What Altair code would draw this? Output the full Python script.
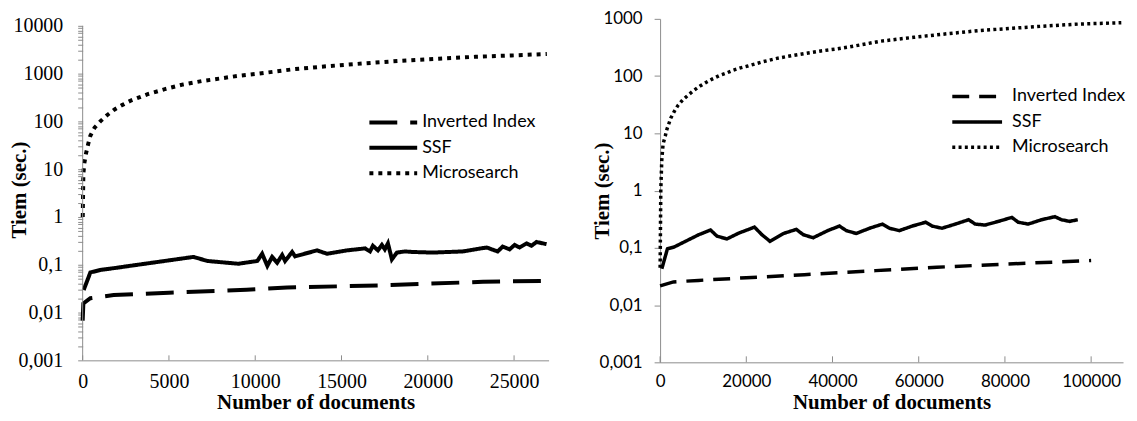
import altair as alt
import pandas as pd

names = ["Inverted Index", "SSF", "Microsearch"]

# ---- left panel ----
l_inv_n = [0, 40, 445, 1800, 5000, 9500, 11850, 17200, 23200, 26800]
l_inv_t = [0.0068, 0.0155, 0.020, 0.0232, 0.026, 0.030, 0.0334, 0.037, 0.044, 0.046]

l_ssf_n = [60, 445, 1040, 2020, 2750, 6420, 7230, 9020, 10120, 10400, 10700, 10980, 11270, 11560, 11730,
           12140, 12310, 13580, 14160, 15320, 16360, 16650, 16820, 17110, 17340, 17510, 17690, 17920, 18210,
           18670, 19130, 20290, 22020, 23410, 24050, 24340, 24740, 25030, 25320, 25720, 26010, 26300, 26880]
l_ssf_t = [0.0297, 0.069, 0.078, 0.087, 0.095, 0.146, 0.12, 0.105, 0.12, 0.17, 0.095, 0.146, 0.11, 0.16, 0.12,
           0.185, 0.15, 0.2, 0.17, 0.2, 0.22, 0.19, 0.25, 0.2, 0.26, 0.21, 0.28, 0.13, 0.18,
           0.19, 0.185, 0.18, 0.19, 0.23, 0.19, 0.24, 0.21, 0.26, 0.23, 0.28, 0.25, 0.3, 0.27]

l_mic_n = [5, 40, 100, 190, 310, 445, 690, 1020, 1410, 1830, 2310, 2790, 3770, 4810, 5830, 6890, 7950,
           9000, 10060, 12170, 14290, 16410, 18520, 20640, 22760, 24870, 26900]
l_mic_t = [1, 8, 13.5, 21, 32.5, 50, 74, 100, 135, 176, 222, 273, 372, 478, 594, 697, 790,
           897, 986, 1230, 1440, 1650, 1860, 2050, 2250, 2400, 2580]

# ---- right panel ----
r_inv_n = [0, 3100, 8900, 20000, 33500, 50000, 64200, 80000, 100000]
r_inv_t = [0.0217, 0.0254, 0.027, 0.030, 0.034, 0.040, 0.0458, 0.052, 0.060]

r_ssf_n = [400, 1700, 3200, 5900, 9000, 11700, 13200, 15500, 18200, 21900, 23600, 25500, 28600, 31600,
           33200, 35500, 38900, 41600, 43200, 45500, 48600, 51600, 53200, 55500, 58500, 61600, 63100,
           65400, 68500, 71600, 73100, 75400, 78500, 81600, 83100, 85400, 88500, 91600, 93100, 95000, 96900]
r_ssf_t = [0.043, 0.096, 0.103, 0.13, 0.17, 0.205, 0.16, 0.143, 0.18, 0.23, 0.17, 0.13, 0.178, 0.21,
           0.17, 0.15, 0.2, 0.24, 0.2, 0.178, 0.22, 0.26, 0.22, 0.2, 0.24, 0.28, 0.24,
           0.22, 0.26, 0.31, 0.26, 0.25, 0.29, 0.34, 0.28, 0.26, 0.31, 0.35, 0.31, 0.29, 0.31]

r_mic_n = [10, 160, 390, 690, 1200, 1570, 2490, 3270, 4110, 5260, 6570, 7880, 9270, 10650, 12180,
           13720, 15410, 16950, 18640, 20340, 23710, 27100, 30480, 33860, 37320, 40780, 44100, 51130,
           58810, 66500, 74170, 81860, 89540, 97220, 107000]
r_mic_t = [0.045, 1, 3.4, 6.5, 9, 11.7, 18.5, 24, 30.4, 38.5, 47, 56.6, 67, 77.5, 89.5,
           102, 113, 127, 139, 150, 177, 204, 227, 250, 275, 297, 325, 407,
           476, 548, 626, 686, 751, 812, 855]

l_xticks = [0, 5000, 10000, 15000, 20000, 25000]
r_xticks = [0, 20000, 40000, 60000, 80000, 100000]
l_ymajor = [0.001, 0.01, 0.1, 1, 10, 100, 1000, 10000]
r_ymajor = [0.001, 0.01, 0.1, 1, 10, 100, 1000]
l_yticks = sorted(set(l_ymajor + [round(m * 10.0 ** k, 6) for k in range(-3, 4) for m in range(2, 10)]))

GRAY = "#8c8c8c"


def frame(inv_n, inv_t, ssf_n, ssf_t, mic_n, mic_t):
    parts = []
    for nm, ns, ts in [(names[0], inv_n, inv_t), (names[1], ssf_n, ssf_t), (names[2], mic_n, mic_t)]:
        parts.append(pd.DataFrame({"n": ns, "t": ts, "series": nm}))
    return pd.concat(parts, ignore_index=True)


label_expr = ("abs(log(datum.value)/LN10 - round(log(datum.value)/LN10)) < 0.001 ? "
              "replace(format(datum.value, '~f'), '.', ',') : ''")


def panel(df, xdom, ydom, width, height, xticks, yvalues, ymajor, tick_font, tick_size, ylabpad, ytick,
          ytitle_x, xlabpad, xtitle_y, xtick_len, dashes, sw, leg, own_domain):
    xaxis = alt.Axis(values=xticks, format="d", title="Number of documents", ticks=False, tickSize=0,
                     labelFont=tick_font, labelFontSize=tick_size, labelColor="black",
                     labelPadding=xlabpad, labelFlush=False, labelOverlap=False, grid=False,
                     domainColor=GRAY, titleFont="Liberation Serif", titleFontSize=21,
                     titleFontWeight="bold", titleColor="black", titleY=xtitle_y,
                     titleBaseline="middle")
    yaxis = alt.Axis(values=yvalues, labelExpr=label_expr, title="Tiem (sec.)", tickSize=ytick,
                     tickColor=GRAY, domainColor=GRAY, domain=not own_domain, grid=False,
                     labelFont=tick_font,
                     labelFontSize=tick_size, labelColor="black", labelPadding=ylabpad,
                     labelOverlap=False, labelFlush=False, labelBound=False,
                     titleFont="Liberation Serif", titleFontSize=21, titleFontWeight="bold",
                     titleColor="black", titleX=ytitle_x, titleY=height / 2, titleAngle=270,
                     titleAlign="center", titleBaseline="middle")
    xs = alt.Scale(domain=xdom, nice=False, zero=False)
    ys = alt.Scale(type="log", domain=ydom, nice=False)
    lines = alt.Chart(df).mark_line(color="black", strokeWidth=sw).encode(
        x=alt.X("n:Q", scale=xs, axis=xaxis),
        y=alt.Y("t:Q", scale=ys, axis=yaxis),
        strokeDash=alt.StrokeDash(
            "series:N",
            scale=alt.Scale(domain=names, range=dashes),
            legend=alt.Legend(orient="none", legendX=leg["x"], legendY=leg["y"], title=None,
                              symbolType="stroke", symbolSize=leg["len"] ** 2,
                              symbolStrokeWidth=sw, symbolStrokeColor="black",
                              labelFont="Lato", labelFontSize=18, labelColor="black",
                              labelOffset=leg["off"], clipHeight=25, rowPadding=leg["rp"],
                              padding=0, labelLimit=300),
        ),
        order=alt.Order("n:Q"),
    )
    ticks = alt.Chart(pd.DataFrame({"n": xticks})).mark_rule(color=GRAY, strokeWidth=1).encode(
        x=alt.X("n:Q", scale=xs, axis=xaxis),
        y=alt.value(height),
        y2=alt.value(height - xtick_len),
    )
    layers = [lines, ticks]
    if own_domain:
        dom = alt.Chart(pd.DataFrame({"t": [ymajor[0]], "t2": [ymajor[-1]]})).mark_rule(
            color=GRAY, strokeWidth=1).encode(
            x=alt.value(0),
            y=alt.Y("t:Q", scale=ys, axis=yaxis),
            y2="t2:Q",
        )
        layers.append(dom)
    return alt.layer(*layers).properties(width=width, height=height)


left = panel(frame(l_inv_n, l_inv_t, l_ssf_n, l_ssf_t, l_mic_n, l_mic_t),
             [0, 27000], [0.001, 14000], 468, 343, l_xticks, l_yticks, l_ymajor,
             "Liberation Serif", 20, 15, 5, -63, 11, 42.5, 5,
             [[28, 13], [1, 0], [4, 5]], 4,
             {"x": 286, "y": 91.5, "len": 48, "off": 3, "rp": 0.5}, True)

right = panel(frame(r_inv_n, r_inv_t, r_ssf_n, r_ssf_t, r_mic_n, r_mic_t),
              [0, 107400], [0.001, 1000], 465, 345, r_xticks, r_ymajor, r_ymajor,
              "Lato", 17, 12, 6, -57.5, 11, 40.5, 6,
              [[17, 10], [1, 0], [3, 3.3]], 3.5,
              {"x": 291.5, "y": 65.5, "len": 50, "off": 8, "rp": 0.5}, False)

chart = alt.hconcat(left, right, spacing=112, bounds="flush").resolve_scale(
    x="independent", y="independent", strokeDash="independent"
).resolve_legend(strokeDash="independent").configure(
    padding={"left": 1, "top": 1, "right": 0, "bottom": 0}
).configure_view(stroke=None)

chart.save("out.html", embed_options={"renderer": "svg", "actions": False})
